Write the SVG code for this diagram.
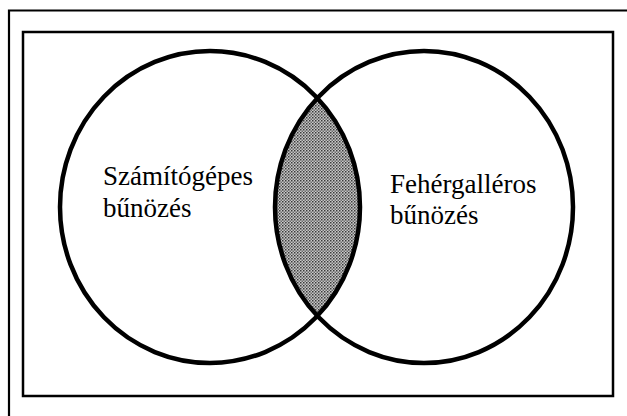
<svg xmlns="http://www.w3.org/2000/svg" width="627" height="416" viewBox="0 0 627 416">
  <style>
    .ring { fill: none; stroke: #000; stroke-width: 4.5; }
    .frame { fill: none; stroke: #000; }
    .lbl { font-family: "Liberation Serif", "Times New Roman", serif; font-size: 27px; fill: #000; }
  </style>
  <defs>
    <pattern id="dots" width="3" height="3" patternUnits="userSpaceOnUse">
      <rect width="3" height="3" fill="#c8c8c8"/>
      <rect x="0" y="0" width="1.5" height="1.5" fill="#3a3a3a"/>
      <rect x="1.5" y="1.5" width="1.5" height="1.5" fill="#6a6a6a"/>
    </pattern>
    <clipPath id="clipLeft">
      <ellipse cx="210" cy="207" rx="150" ry="156"/>
    </clipPath>
  </defs>
  <rect width="627" height="416" fill="#fff"/>
  <g id="frame">
    <path class="frame" d="M9 416 V10.5 H627" stroke-width="2.2"/>
    <rect class="frame" x="23" y="32" width="590" height="364" stroke-width="2.5"/>
  </g>
  <g id="intersection">
    <ellipse cx="424" cy="207" rx="149" ry="156" fill="url(#dots)" clip-path="url(#clipLeft)"/>
  </g>
  <g id="computer-crime">
    <ellipse class="ring" cx="210" cy="207" rx="150" ry="156"/>
    <text class="lbl" x="103" y="185">Számítógépes</text>
    <text class="lbl" x="103" y="217">bűnözés</text>
  </g>
  <g id="white-collar-crime">
    <ellipse class="ring" cx="424" cy="207" rx="149" ry="156"/>
    <text class="lbl" x="390" y="193">Fehérgalléros</text>
    <text class="lbl" x="390" y="224">bűnözés</text>
  </g>
  <g id="connectors"/>
</svg>
